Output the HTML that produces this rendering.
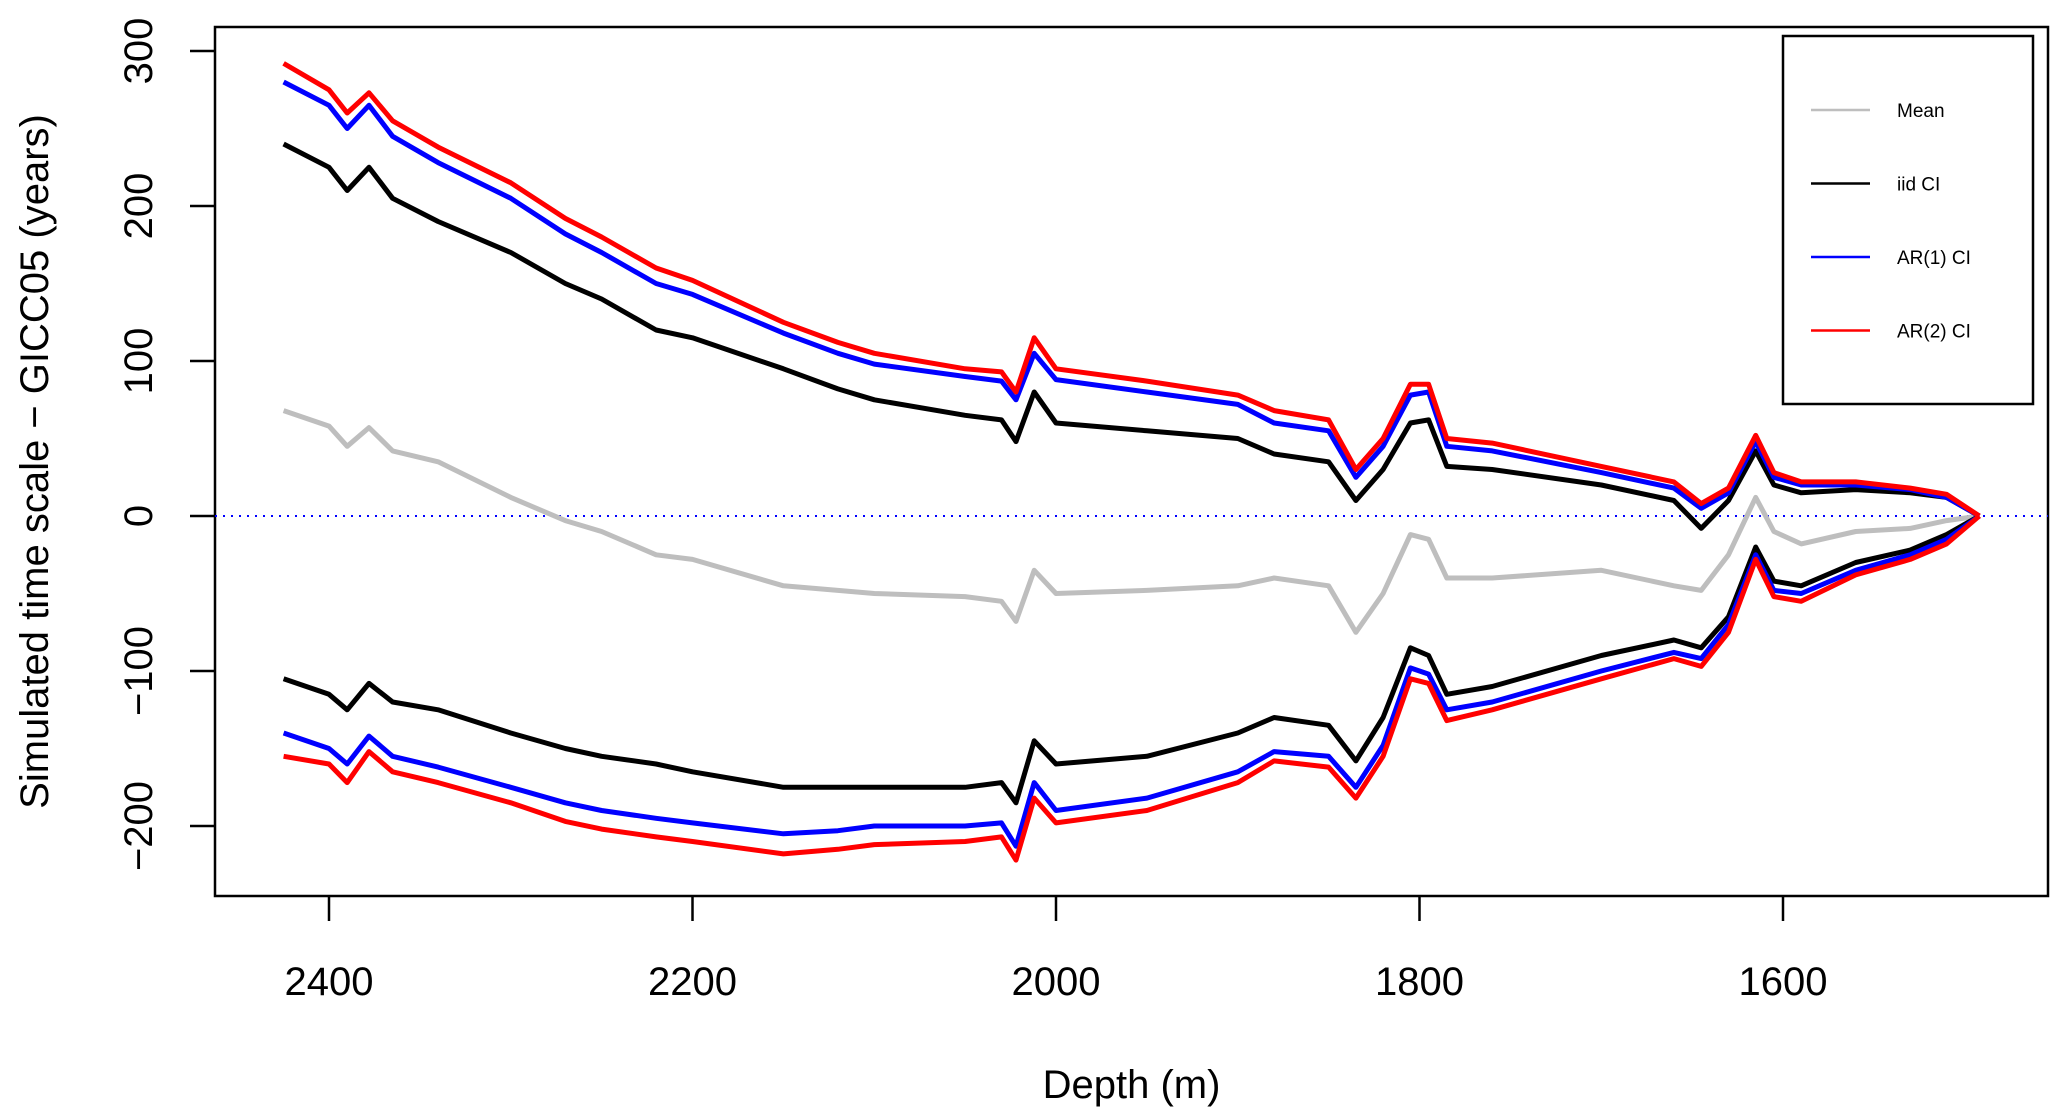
<!DOCTYPE html>
<html><head><meta charset="utf-8"><style>
html,body{margin:0;padding:0;background:#fff;}
svg{display:block;}
text{font-family:"Liberation Sans",Arial,sans-serif;}
</style></head><body>
<svg id="chart" width="2067" height="1120" viewBox="0 0 2067 1120" xmlns="http://www.w3.org/2000/svg">
<g id="axes"></g>
<g id="series"></g>
<g id="legend"></g>
</svg>
<script>
const depths = [2425,2400,2390,2378,2365,2340,2300,2270,2250,2220,2200,2150,2120,2100,2050,2030,2022,2012,2000,1950,1900,1880,1850,1835,1820,1805,1795,1785,1760,1700,1660,1645,1630,1615,1605,1590,1560,1530,1510,1492];
const meanVals = [68,58,45,57,42,35,12,-3,-10,-25,-28,-45,-48,-50,-52,-55,-68,-35,-50,-48,-45,-40,-45,-75,-50,-12,-15,-40,-40,-35,-45,-48,-25,12,-10,-18,-10,-8,-3,0];
const iidUpper = [240,225,210,225,205,190,170,150,140,120,115,95,82,75,65,62,48,80,60,55,50,40,35,10,30,60,62,32,30,20,10,-8,10,42,20,15,17,15,12,0];
const iidLower = [-105,-115,-125,-108,-120,-125,-140,-150,-155,-160,-165,-175,-175,-175,-175,-172,-185,-145,-160,-155,-140,-130,-135,-158,-130,-85,-90,-115,-110,-90,-80,-85,-65,-20,-42,-45,-30,-22,-12,0];
const ar1Upper = [280,265,250,265,245,228,205,182,170,150,143,118,105,98,90,87,75,105,88,80,72,60,55,25,45,78,80,45,42,28,18,5,15,48,25,20,20,17,12,0];
const ar1Lower = [-140,-150,-160,-142,-155,-162,-175,-185,-190,-195,-198,-205,-203,-200,-200,-198,-213,-172,-190,-182,-165,-152,-155,-175,-148,-98,-102,-125,-120,-100,-88,-92,-70,-25,-48,-50,-35,-25,-15,0];
const ar2Upper = [292,275,260,273,255,238,215,192,180,160,152,125,112,105,95,93,80,115,95,87,78,68,62,30,50,85,85,50,47,32,22,8,18,52,28,22,22,18,14,0];
const ar2Lower = [-155,-160,-172,-152,-165,-172,-185,-197,-202,-207,-210,-218,-215,-212,-210,-207,-222,-182,-198,-190,-172,-158,-162,-182,-155,-105,-108,-132,-125,-105,-92,-97,-75,-28,-52,-55,-38,-28,-18,0];
const xTicks = [2400,2200,2000,1800,1600];
const yTicks = [300,200,100,0,-100,-200];
const legendLabels = ["Mean","iid CI","AR(1) CI","AR(2) CI"];

const NS="http://www.w3.org/2000/svg";
const L=215,R=2048,T=27,B=896;
function xScale(d){return 329+(2400-d)*1.8175;}
function yScale(v){return 516-v*1.55;}
function mk(tag,attrs,parent){const e=document.createElementNS(NS,tag);for(const k in attrs)e.setAttribute(k,attrs[k]);parent.appendChild(e);return e;}
const axes=document.getElementById('axes'),series=document.getElementById('series'),legend=document.getElementById('legend');

let box=mk('rect',{x:L,y:T,width:R-L,height:B-T,fill:'none',stroke:'#000','stroke-width':2.5},axes);



xTicks.forEach(t=>{
  const x=xScale(t);
  let tk=mk('line',{x1:x,x2:x,y1:B,y2:B+25,stroke:'#000','stroke-width':2.5},axes);
  
  
  let lb=mk('text',{x:x,y:995,'text-anchor':'middle','font-size':40},axes);
  lb.textContent=t;
  
  
});
yTicks.forEach(t=>{
  const y=yScale(t);
  let tk=mk('line',{x1:L,x2:L-25,y1:y,y2:y,stroke:'#000','stroke-width':2.5},axes);
  
  
  let lb=mk('text',{x:0,y:0,'text-anchor':'middle','font-size':40,transform:`translate(152,${y}) rotate(-90)`},axes);
  lb.textContent=t===0?"0":(t<0?"\u2212"+(-t):t);
  
  
});
let xt=mk('text',{x:(L+R)/2,y:1098,'text-anchor':'middle','font-size':40},axes);
xt.textContent="Depth (m)";


let yt=mk('text',{x:0,y:0,'text-anchor':'middle','font-size':40,transform:`translate(48,${(T+B)/2}) rotate(-90)`},axes);
yt.textContent="Simulated time scale \u2212 GICC05 (years)";



let zl=mk('line',{x1:L,x2:R,y1:yScale(0),y2:yScale(0),stroke:'#0000ff','stroke-width':2,'stroke-dasharray':'2 6'},axes);



function drawLine(vals,color,name){
  const d=vals.map((v,i)=>(i?'L':'M')+xScale(depths[i]).toFixed(1)+' '+yScale(v).toFixed(1)).join(' ');
  let p=mk('path',{d:d,fill:'none',stroke:color,'stroke-width':5,'stroke-linejoin':'round'},series);
  
  
}
drawLine(meanVals,'#bebebe','mean-line');
drawLine(iidUpper,'#000000','iid-ci-upper');
drawLine(iidLower,'#000000','iid-ci-lower');
drawLine(ar1Upper,'#0000ff','ar1-ci-upper');
drawLine(ar1Lower,'#0000ff','ar1-ci-lower');
drawLine(ar2Upper,'#ff0000','ar2-ci-upper');
drawLine(ar2Lower,'#ff0000','ar2-ci-lower');

let lb=mk('rect',{x:1783,y:36,width:250,height:368,fill:'#fff',stroke:'#000','stroke-width':2.5},legend);


const lcolors=['#bebebe','#000000','#0000ff','#ff0000'];
legendLabels.forEach((s,i)=>{
  const y=110+i*73.5;
  let ln=mk('line',{x1:1811,x2:1870,y1:y,y2:y,stroke:lcolors[i],'stroke-width':2.5},legend);
  
  
  let tx=mk('text',{x:1897,y:y+7,'font-size':19},legend);
  tx.textContent=s;
  
  
});
</script>
</body></html>
